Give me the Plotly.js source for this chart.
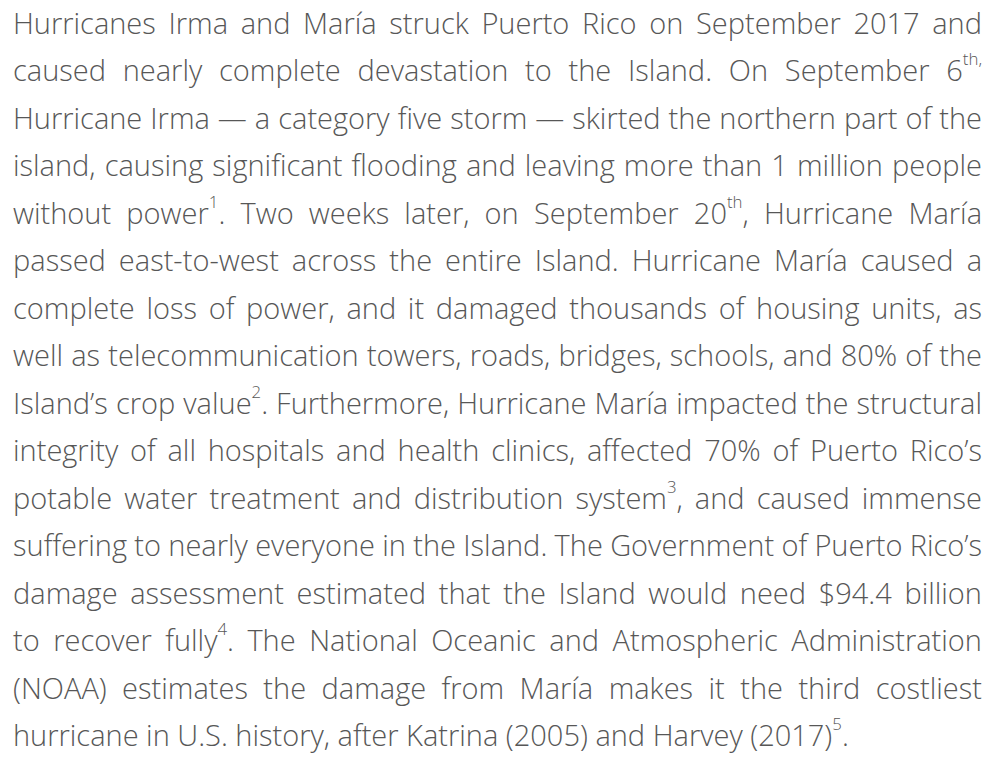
<!DOCTYPE html>
<html><head><meta charset="utf-8">
<script src="https://cdn.plot.ly/plotly-3.0.1.min.js"></script>
<style>html,body{margin:0;padding:0;background:#fff;overflow:hidden}#chart{width:998px;height:760px}</style>
</head><body><div id="chart"></div>
<script>
// Paragraph text, one entry per printed line (justified in the reference)
const paragraphLines = [
  "Hurricanes Irma and María struck Puerto Rico on September 2017 and",
  "caused nearly complete devastation to the Island. On September 6<sup>th,</sup>",
  "Hurricane Irma — a category five storm — skirted the northern part of the",
  "island, causing significant flooding and leaving more than 1 million people",
  "without power<sup>1</sup>. Two weeks later, on September 20<sup>th</sup>, Hurricane María",
  "passed east-to-west across the entire Island. Hurricane María caused a",
  "complete loss of power, and it damaged thousands of housing units, as",
  "well as telecommunication towers, roads, bridges, schools, and 80% of the",
  "Island’s crop value<sup>2</sup>. Furthermore, Hurricane María impacted the structural",
  "integrity of all hospitals and health clinics, affected 70% of Puerto Rico’s",
  "potable water treatment and distribution system<sup>3</sup>, and caused immense",
  "suffering to nearly everyone in the Island. The Government of Puerto Rico’s",
  "damage assessment estimated that the Island would need $94.4 billion",
  "to recover fully<sup>4</sup>. The National Oceanic and Atmospheric Administration",
  "(NOAA) estimates the damage from María makes it the third costliest",
  "hurricane in U.S. history, after Katrina (2005) and Harvey (2017)<sup>5</sup>."
];
const justifiedFlags = [true,true,true,true,true,true,true,true,true,true,true,true,true,true,true,false];

const FONT_FAMILY = 'Open Sans';
const FONT_WEIGHT = 300;
const FONT_SIZE = 29;
const SUP_SCALE = 0.58;
const SUP_RAISE_EM = 0.95; // in superscript ems
const TEXT_COLOR = '#575757';
const LEFT = 13, RIGHT = 982, FIRST_BASELINE = 33.5, LINE_PITCH = 47.5;
const W = 998, H = 760;

const ctx = document.createElement('canvas').getContext('2d');
function measureAt(s, size){
  if(!s) return 0;
  ctx.font = FONT_WEIGHT + ' ' + size + 'px "' + FONT_FAMILY + '"';
  return ctx.measureText(s).width;
}
function measureWord(word){
  let w = 0, last = 0, m;
  const re = /<sup>(.*?)<\/sup>/g;
  while((m = re.exec(word))){
    w += measureAt(word.slice(last, m.index), FONT_SIZE);
    w += measureAt(m[1], FONT_SIZE*SUP_SCALE);
    last = re.lastIndex;
  }
  w += measureAt(word.slice(last), FONT_SIZE);
  return w;
}

function fixSuperscripts(){
  const tspans = document.querySelectorAll('#chart tspan');
  tspans.forEach(t => {
    const st = t.getAttribute('style') || '';
    if (st.indexOf('font-size:70%') !== -1) {
      t.setAttribute('style', st.replace('font-size:70%', 'font-size:' + Math.round(SUP_SCALE*100) + '%'));
      t.setAttribute('dy', (-SUP_RAISE_EM) + 'em');
      const nxt = t.nextSibling;
      if (nxt && nxt.nodeName && nxt.nodeName.toLowerCase() === 'tspan' && nxt.getAttribute('dy')) {
        nxt.setAttribute('dy', (SUP_RAISE_EM*SUP_SCALE).toFixed(3) + 'em');
      }
    }
  });
}

function build(){
  const xs = [], ys = [], texts = [];
  const spaceW = measureAt(' ', FONT_SIZE);
  paragraphLines.forEach((line, i) => {
    const words = line.split(' ');
    const widths = words.map(measureWord);
    const total = widths.reduce((a,b)=>a+b,0);
    const gap = (justifiedFlags[i] && words.length > 1) ? (RIGHT - LEFT - total)/(words.length-1) : spaceW;
    const baseline = FIRST_BASELINE + i*LINE_PITCH;
    let x = LEFT;
    words.forEach((wd, j) => {
      xs.push(x); ys.push(baseline - 0.25*FONT_SIZE); texts.push(wd);
      x += widths[j] + gap;
    });
  });
  const trace = {
    type: 'scatter', mode: 'text', x: xs, y: ys, text: texts,
    textposition: 'middle right', cliponaxis: false, hoverinfo: 'skip',
    textfont: {family: FONT_FAMILY, size: FONT_SIZE, color: TEXT_COLOR, weight: FONT_WEIGHT}
  };
  const layout = {
    width: W, height: H, margin: {l:0, r:0, t:0, b:0},
    paper_bgcolor: '#ffffff', plot_bgcolor: '#ffffff', showlegend: false,
    xaxis: {range: [0, W], visible: false, fixedrange: true},
    yaxis: {range: [H, 0], visible: false, fixedrange: true}
  };
  Plotly.newPlot('chart', [trace], layout, {displayModeBar: false, staticPlot: true}).then(fixSuperscripts);
}
if (document.fonts && document.fonts.load) {
  document.fonts.load(FONT_WEIGHT + ' ' + FONT_SIZE + 'px "' + FONT_FAMILY + '"').then(build, build);
} else build();
</script></body></html>
